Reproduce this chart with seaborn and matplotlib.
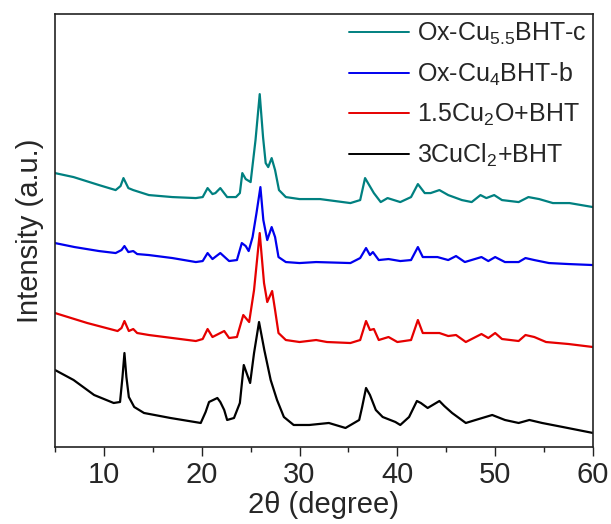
import numpy as np
import pandas as pd
import matplotlib
matplotlib.use("Agg")
import matplotlib.pyplot as plt
import seaborn as sns
from matplotlib.ticker import MultipleLocator

# ---- data (intensities in arbitrary units, offset traces) ----
labels = ["Ox-Cu$_{\\mathregular{5.5}}$BHT-c", "Ox-Cu$_{\\mathregular{4}}$BHT-b",
          "1.5Cu$_{\\mathregular{2}}$O+BHT", "3CuCl$_{\\mathregular{2}}$+BHT"]
colors = ["#008080", "#0000ee", "#e60000", "#000000"]

teal_x = [5, 6.9, 9.5, 11.2, 11.7, 12.0, 12.5, 13.0, 14.6, 17, 19.4, 20.1, 20.6, 21.1, 21.4, 21.9,
          22.6, 23.5, 23.9, 24.15, 24.5, 25.0, 25.5, 25.93, 26.27, 26.54, 26.8, 27.15, 27.5, 27.9,
          28.6, 30, 32.1, 35.2, 36.2, 36.7, 37.6, 38.3, 39.0, 40.3, 41.4, 42.1, 42.8, 43.4, 44.3,
          45.2, 46.6, 47.6, 48.5, 49.1, 49.9, 50.7, 52.4, 53.4, 54.5, 55.9, 57.6, 60]
teal_y = [274, 270, 262, 257, 261, 269, 259, 257, 252, 250, 249, 250, 259, 253, 254, 259,
          250, 250, 254, 274, 268, 265, 307, 353, 310, 284, 280, 289, 277, 257,
          250, 248, 248, 244, 247, 269, 254, 245, 249, 245, 250, 263, 254, 254, 257,
          252, 247, 245, 252, 249, 252, 247, 245, 250, 248, 244, 244, 240]

blue_x = [5, 7, 9.5, 11.2, 11.8, 12.1, 12.5, 13.0, 13.4, 14.6, 17, 19.4, 20.1, 20.6, 21.1, 21.9,
          22.8, 23.6, 24.1, 24.5, 24.8, 25.2, 25.6, 26.0, 26.3, 26.7, 27.15, 27.5, 27.85, 28.6,
          30, 31.7, 35.2, 36.2, 36.8, 37.2, 37.5, 38.1, 39.1, 40.3, 41.4, 42.1, 42.6, 44.1, 45.2,
          46.0, 46.9, 48.6, 49.3, 50.0, 51.0, 52.4, 53.1, 54.0, 55.5, 57.5, 60]
blue_y = [204, 200, 196, 194, 197, 201, 195, 196, 193, 192, 189, 185, 186, 194, 188, 194,
          186, 187, 204, 201, 196, 210, 234, 260, 227, 207, 220, 210, 190, 185,
          184, 185, 184, 189, 199, 192, 195, 187, 188, 186, 187, 200, 190, 190, 187,
          191, 185, 190, 186, 190, 185, 185, 189, 187, 184, 183, 182]

red_x = [5, 8.3, 11.4, 11.8, 12.1, 12.55, 13.0, 13.4, 14.6, 17, 19.4, 20.1, 20.6, 21.1, 22.3,
         22.8, 23.6, 24.25, 24.85, 25.35, 25.93, 26.37, 26.7, 27.2, 27.5, 27.85, 28.6, 30, 31.7,
         32.8, 35.2, 36.2, 36.8, 37.2, 37.6, 38.1, 39.1, 40.0, 41.4, 42.1, 42.6, 44.3, 45.2,
         46.0, 47.0, 48.6, 49.3, 50.0, 50.7, 52.4, 53.1, 54.0, 55.2, 57.5, 60]
red_y = [134, 124, 116, 119, 126, 116, 118, 114, 112, 109, 106, 108, 118, 110, 116,
         109, 110, 132, 125, 157, 214, 164, 145, 156, 137, 114, 107, 105, 107,
         105, 104, 107, 126, 117, 118, 107, 110, 105, 107, 127, 114, 114, 111,
         112, 105, 113, 109, 114, 108, 106, 112, 110, 105, 103, 100]

black_x = [5, 6.9, 9.0, 11.0, 11.65, 11.9, 12.1, 12.3, 12.55, 13.1, 14.1, 16.8, 19.9, 20.4, 20.75,
           21.6, 21.9, 22.3, 22.6, 23.3, 23.9, 24.3, 24.95, 25.35, 25.86, 26.4, 27.05, 27.7, 28.4,
           29.4, 31, 33.0, 34.7, 36.1, 36.4, 36.8, 37.2, 37.8, 38.5, 39.8, 40.3, 41.2, 42.0, 42.4,
           43.1, 44.3, 44.8, 45.6, 47.0, 48.0, 49.7, 51.0, 52.4, 53.5, 54.8, 56.9, 60]
black_y = [77, 67, 52, 44, 45, 70, 94, 70, 50, 40, 34, 29, 24, 35, 45,
           49, 45, 37, 27, 29, 44, 82, 64, 94, 125, 97, 67, 47, 30,
           22, 22, 24, 19, 27, 40, 59, 52, 37, 30, 25, 22, 30, 46, 44,
           39, 46, 41, 34, 24, 27, 32, 27, 24, 27, 24, 20, 14]

xticks = [10, 20, 30, 40, 50, 60]

frames = []
for lab, xs, ys in zip(labels, [teal_x, blue_x, red_x, black_x], [teal_y, blue_y, red_y, black_y]):
    frames.append(pd.DataFrame({"x": xs, "y": ys, "sample": lab}))
df = pd.concat(frames, ignore_index=True)

# ---- style ----
sns.set_style("ticks")
plt.rcParams["font.family"] = ["Liberation Sans", "DejaVu Sans"]
plt.rcParams["mathtext.fontset"] = "custom"
plt.rcParams["mathtext.rm"] = "Liberation Sans"
plt.rcParams["mathtext.it"] = "Liberation Sans:italic"

fig = plt.figure(figsize=(6.11, 5.24), dpi=100)
ax = fig.add_axes([0.090, 0.147, 0.8805, 0.826])

sns.lineplot(data=df, x="x", y="y", hue="sample", hue_order=labels,
             palette=dict(zip(labels, colors)), sort=False, estimator=None,
             linewidth=1.6, ax=ax)

ax.set_xlim(5, 60)
ax.set_ylim(0, 433)
ax.set_xticks(xticks)
ax.xaxis.set_minor_locator(MultipleLocator(5))
ax.set_yticks([])
ax.tick_params(axis="x", which="major", direction="out", length=6.2, width=1.0,
               labelsize=21, pad=4, color="#222222")
ax.tick_params(axis="x", which="minor", direction="out", length=3.6, width=1.0, color="#222222")
for s in ax.spines.values():
    s.set_linewidth(1.2)
    s.set_color("#222222")
    s.set_visible(True)

ax.set_xlabel("2\u03b8 (degree)", fontsize=21, labelpad=1)
ax.set_ylabel("Intensity (a.u.)", fontsize=21, labelpad=8)

handles, labs = ax.get_legend_handles_labels()
leg = ax.legend(handles, labs, loc="upper right", bbox_to_anchor=(1.02, 1.025),
                frameon=False, fontsize=18, handlelength=2.4, handletextpad=0.3,
                labelspacing=0.55, borderaxespad=0.3)
for line in leg.get_lines():
    line.set_linewidth(1.4)

fig.savefig("out.png", dpi=100)
